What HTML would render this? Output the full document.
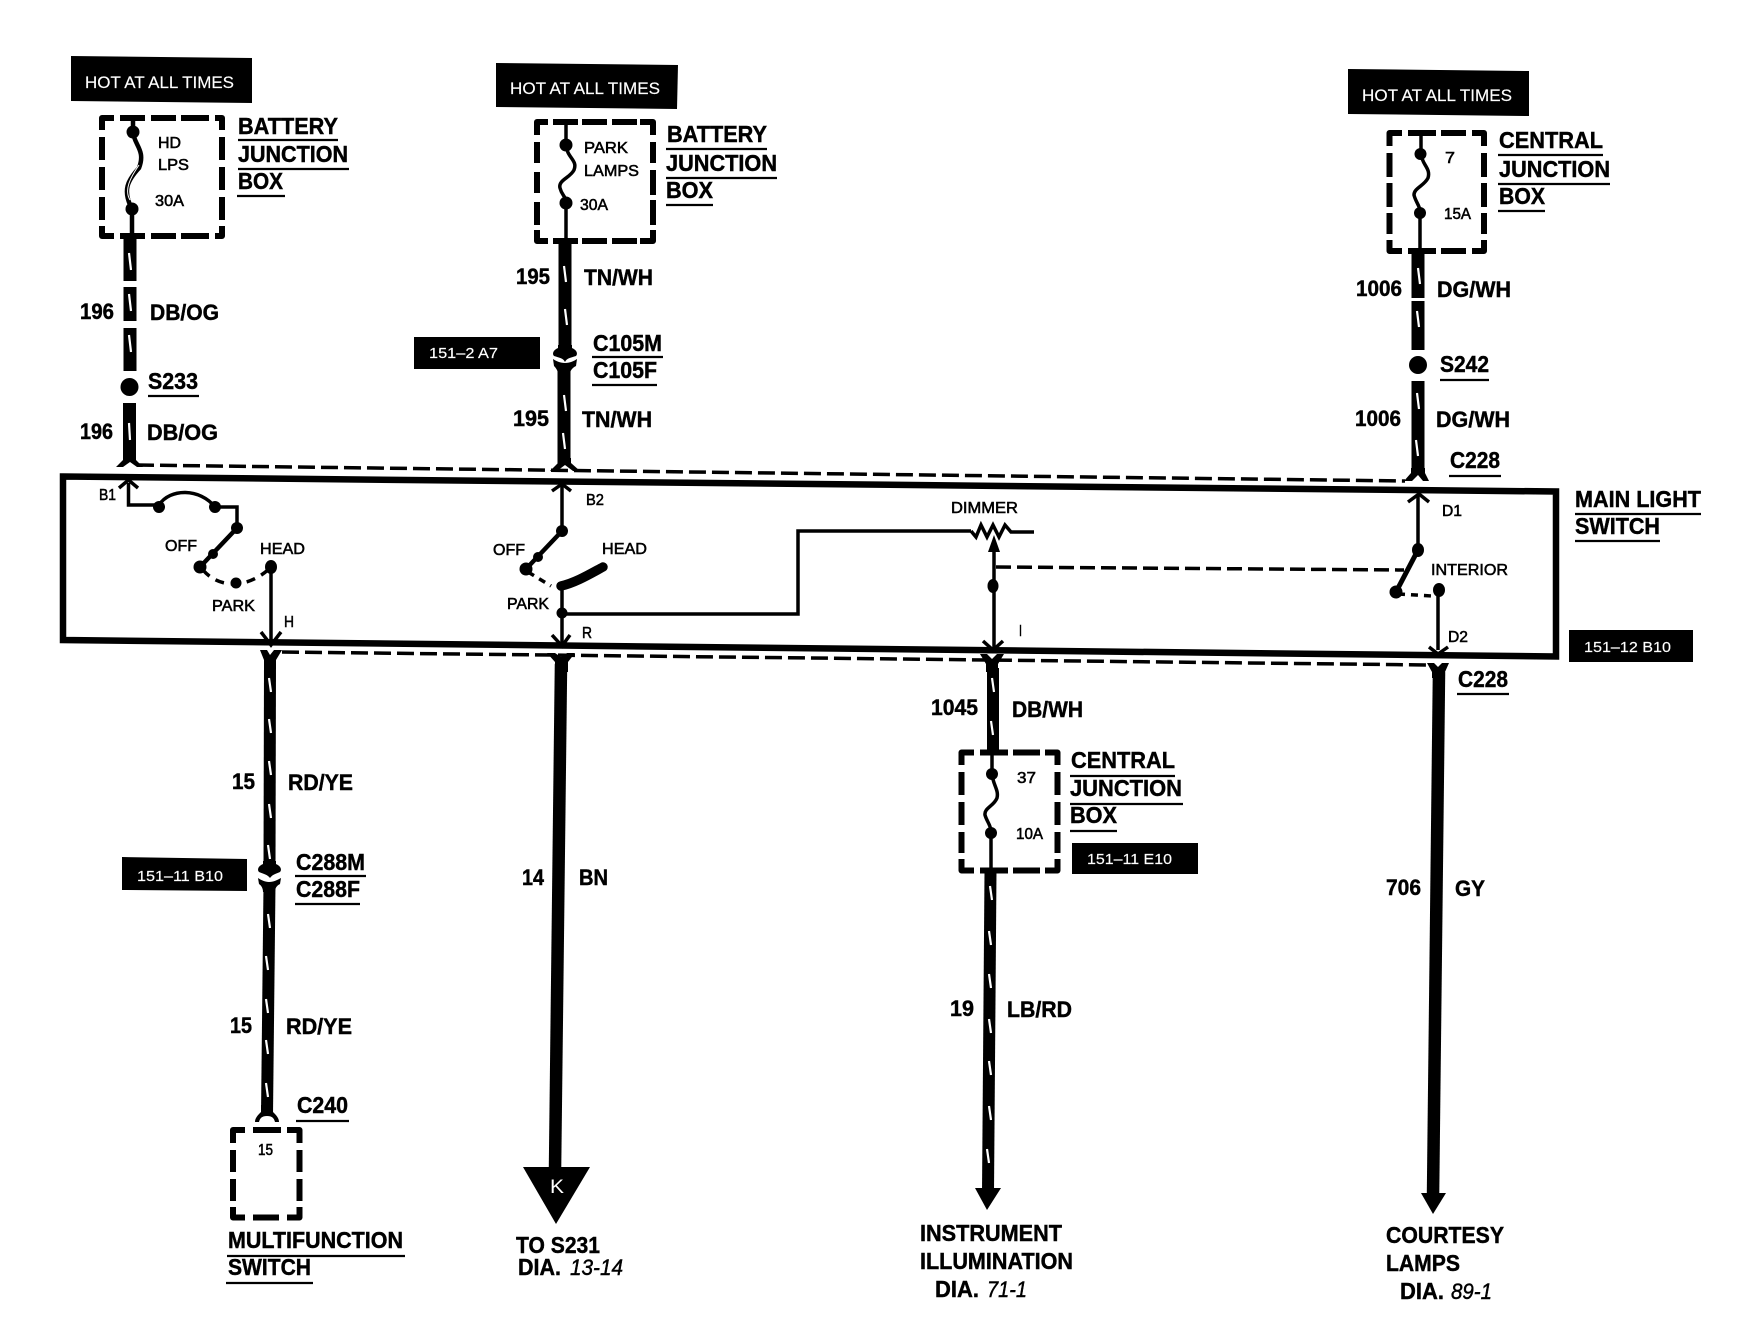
<!DOCTYPE html>
<html><head><meta charset="utf-8"><style>
html,body{margin:0;padding:0;background:#fff}
svg{display:block}
text{font-family:"Liberation Sans",sans-serif;fill:#000}
.b{font-size:23px;font-weight:bold;stroke:#000;stroke-width:.45}
.n{font-size:22px;font-weight:bold;stroke:#000;stroke-width:.45}
.s{font-size:16px;stroke:#000;stroke-width:.55}
.w{font-size:17px;fill:#fff;stroke:#fff;stroke-width:.15}
.i{font-size:22px;font-style:italic;font-weight:normal;stroke:#000;stroke-width:.45}
.wire{stroke:#000;fill:none}
.sl{stroke:#fff;stroke-width:2.2;fill:none}
.thin{stroke:#000;stroke-width:3.5;fill:none}
.ul{stroke:#000;stroke-width:2.2}
.dash{stroke:#000;fill:none;stroke-width:6;stroke-linejoin:round}
</style></head><body>
<svg xmlns="http://www.w3.org/2000/svg" width="1750" height="1344" viewBox="0 0 1750 1344">
<rect width="1750" height="1344" fill="#fff"/>

<!-- black tags -->
<polygon points="71,56 252,58 252,103 71,101"/>
<polygon points="496,63 678,65 677,109 496,107"/>
<polygon points="1348,69 1529,71 1529,116 1348,114"/>
<polygon points="414,337 540,337 540,369 414,369"/>
<polygon points="122,857 247,859 247,891 122,890"/>
<polygon points="1072,843 1198,843 1198,874 1072,874"/>
<polygon points="1569,630 1693,630 1693,662 1569,662"/>
<text class="w" x="85" y="88" textLength="149" lengthAdjust="spacingAndGlyphs">HOT AT ALL TIMES</text>
<text class="w" x="510" y="94" textLength="150" lengthAdjust="spacingAndGlyphs">HOT AT ALL TIMES</text>
<text class="w" x="1362" y="101" textLength="150" lengthAdjust="spacingAndGlyphs">HOT AT ALL TIMES</text>
<text class="w" style="font-size:15px" x="429" y="358" textLength="69" lengthAdjust="spacingAndGlyphs">151–2 A7</text>
<text class="w" style="font-size:15px" x="137" y="881" textLength="86" lengthAdjust="spacingAndGlyphs">151–11 B10</text>
<text class="w" style="font-size:15px" x="1087" y="864" textLength="85" lengthAdjust="spacingAndGlyphs">151–11 E10</text>
<text class="w" style="font-size:15px" x="1584" y="652" textLength="87" lengthAdjust="spacingAndGlyphs">151–12 B10</text>

<!-- main switch box -->
<polygon points="63,476.500 1556,491.500 1556,656.500 63,640" fill="none" stroke="#000" stroke-width="6.500"/>

<!-- dashed connector lines -->
<line x1="137" y1="465" x2="1405" y2="481" stroke="#000" stroke-width="3.500" stroke-dasharray="17 6"/>
<line x1="282" y1="652" x2="1430" y2="665" stroke="#000" stroke-width="3.500" stroke-dasharray="17 6"/>

<!-- fuse boxes -->
<path class="dash" d="M114,118 H102 V130 M120,118 H145 M151,118 H176 M181,118 H209 M215,118 H222 V130 M102,137 V160 M102,167 V190 M102,197 V220 M102,226 V236 H114 M222,137 V160 M222,167 V190 M222,197 V220 M222,226 V236 H215 M120,236 H145 M151,236 H176 M181,236 H209"/>
<path class="dash" d="M548,122 H537 V135 M553,122 H578 M582,122 H607 M612,122 H637 M640,122 H653 V135 M537,142 V163 M537,172 V193 M537,202 V225 M537,230 V241 H548 M653,142 V163 M653,170 V195 M653,200 V225 M653,230 V241 H640 M553,241 H578 M582,241 H607 M612,241 H637"/>
<path class="dash" d="M1402,133 H1389.500 V146 M1408,133 H1436 M1441,133 H1466 M1472,133 H1484 V146 M1389.500,153 V177 M1389.500,183 V207 M1389.500,213 V234 M1389.500,240 V251 H1402 M1484,153 V177 M1484,183 V207 M1484,213 V234 M1484,240 V251 H1472 M1408,251 H1436 M1441,251 H1466"/>
<path class="dash" d="M974,752.500 H961.500 V765 M980,752.500 H1008 M1013,752.500 H1040 M1045,752.500 H1057.500 V765 M961.500,772 V795 M961.500,802 V825 M961.500,832 V853 M961.500,859 V870.500 H974 M1057.500,772 V795 M1057.500,802 V825 M1057.500,832 V853 M1057.500,859 V870.500 H1045 M980,870.500 H1008 M1013,870.500 H1040"/>
<path class="dash" d="M245,1130 H233 V1143 M253,1130 H281 M287,1130 H299.500 V1143 M233,1150 V1172 M233,1179 V1201 M233,1207 V1217.500 H245 M299.500,1150 V1172 M299.500,1179 V1201 M299.500,1207 V1217.500 H287 M253,1217.500 H279"/>

<!-- fuse internals -->
<path class="thin" style="stroke-width:4.500" d="M133,118 V132 C134,145 146,150 139,168 C128,180 122,190 132,209 V237"/>
<path class="sl" style="stroke-width:1" d="M139,165 C130,178 124,190 130,200"/>
<circle cx="133" cy="132" r="6.500"/><circle cx="132" cy="209" r="6.500"/>
<path class="thin" d="M566,122 V145 C567,158 578,160 574,170 C570,178 558,180 560,188 C562,196 566,196 566,203 V242"/>
<circle cx="566" cy="145" r="6.500"/><circle cx="566" cy="203" r="6.500"/>
<path class="thin" d="M1421,133 V154 C1422,165 1431,168 1428,178 C1424,186 1414,188 1414,195 C1416,203 1420,205 1420,213 V252"/>
<circle cx="1420.500" cy="154" r="6"/><circle cx="1420" cy="213" r="6"/>
<path class="thin" d="M992,752 V774 C993,785 999,790 997,798 C994,806 984,808 985,815 C987,822 991,825 991,833 V871"/>
<circle cx="992" cy="774" r="6"/><circle cx="991" cy="833" r="6"/>

<!-- upper wires -->
<g class="wire" stroke-width="13">
<path d="M130,237 V281 M130,287 V321 M130,328 V371 M129.500,403 V461"/>
<path d="M565,242 V349 M564,364 V465"/>
<path d="M1418,252 V298 M1418,301 V350 M1418,381 V474"/>
</g>
<circle cx="129.500" cy="387" r="9"/>
<circle cx="1418" cy="365" r="9"/>
<!-- upper Y flares -->
<path d="M123,455 H136 V460 L143,467 H137 L130,462 L123,467 H116 L123,460 Z"/>
<path d="M558,458 H571 V463 L580,471 H573 L565,465 L557,471 H550 L558,463 Z"/>
<path d="M1411,468 H1425 V473 L1429,481 H1423 L1418,475 L1412,481 H1404 L1411,473 Z"/>
<!-- lower Y flares -->
<path d="M260,650 H267 L270,655 L274,650 H282 L276,660 V668 H264 V660 Z"/>
<path d="M547,653 H555 L561,657 L567,653 H575 L568,662 V672 H555 V662 Z"/>
<path d="M980,654 H987 L992,659 L997,654 H1004 L998,664 V672 H986 V664 Z"/>
<path d="M1427,663 H1434 L1438,667 L1442,663 H1449 L1445,672 V678 H1432 V672 Z"/>

<!-- lower wires -->
<path class="wire" stroke-width="12" d="M270,664 L269.500,866"/>
<path class="wire" stroke-width="12" d="M269.500,884 L267,1115"/>
<path class="wire" stroke-width="12.500" d="M561,664 L555,1170"/>
<path class="wire" stroke-width="12" d="M993,668 V752"/>
<path class="wire" stroke-width="12" d="M990.500,871 L988,1192"/>
<path class="wire" stroke-width="12.500" d="M1439,672 L1433,1197"/>

<!-- C105 / C288 connectors -->
<path d="M558,345 H572 V348 C577,350 578,354 576,356 C570,358 567,358 565,362 C563,358 560,358 554,356 C552,354 553,350 558,348 Z"/>
<path d="M553,359 C556,361 560,363 565,363 C570,363 574,361 577,359 L576,366 C572,368 570,371 570,374 H558 C558,371 556,368 554,366 Z"/>
<path d="M263,861 H276 V864 C281,866 282,870 280,872 C275,874 272,875 270,878 C268,875 264,874 259,872 C257,870 258,866 263,864 Z"/>
<path d="M258,878 C261,880 265,882 269,882 C274,882 277,880 281,878 L280,884 C276,886 275,889 275,892 H263 C263,889 262,886 259,884 Z"/>
<!-- C240 -->
<path d="M261,1105 H273 V1112 C276,1115 279,1118 279,1122 H275 C274,1118 272,1116 267,1116 C262,1116 260,1118 259,1122 H255 C255,1118 258,1115 261,1112 Z"/>

<!-- heads -->
<polygon points="523,1167 590,1167 556,1224"/>
<polygon points="975,1188 1001,1188 987,1210"/>
<polygon points="1421,1193 1446,1193 1433,1214"/>
<text x="550" y="1193" font-size="19" style="fill:#fff" textLength="14" lengthAdjust="spacingAndGlyphs">K</text>

<!-- wire slashes -->
<g class="sl">
<path d="M129,253 L131,270 M129,294 L131,311 M129,335 L131,352 M129,423 L130,440"/>
<path d="M564,266 L566,282 M565,309 L567,325 M564,395 L566,411 M563,433 L565,449"/>
<path d="M1418,268 L1420,284 M1417,311 L1419,327 M1417,393 L1419,409 M1416,440 L1418,456"/>
<path d="M269,678 L271,692 M269,719 L271,733 M269,761 L271,775 M269,804 L271,818 M268,845 L270,859"/>
<path d="M268,914 L270,928 M266,956 L268,970 M266,999 L268,1013 M266,1040 L268,1054 M266,1083 L268,1097"/>
<path d="M992,678 L994,692 M991,721 L993,735"/>
<path d="M990,886 L992,900 M989,931 L991,945 M989,974 L991,988 M989,1019 L991,1033 M989,1061 L991,1075 M989,1106 L991,1120 M987,1149 L989,1163"/>
</g>

<!-- switch 1 -->
<path class="thin" d="M128.500,483 V505 H159"/>
<path class="thin" d="M119,488 L128.500,480 L138,488"/>
<path class="thin" d="M159,505 C170,488 200,488 215,507 H237 V528"/>
<path class="thin" style="stroke-width:4.500" d="M237,528 L200,567"/>
<path class="thin" stroke-dasharray="9 7" d="M203,570 C220,590 250,588 271,567"/>
<path class="thin" d="M271,567 V644"/>
<path class="thin" d="M261,632 L271,645 L281,632"/>
<circle cx="159" cy="507" r="6"/><circle cx="215" cy="507" r="6"/><circle cx="237" cy="528" r="6"/>
<circle cx="213" cy="554" r="5"/><circle cx="200" cy="567" r="6.500"/><circle cx="236" cy="583" r="5.500"/><ellipse cx="271" cy="567" rx="6" ry="7"/>

<!-- switch 2 -->
<path class="thin" d="M552,491 L562,484 L571,491"/>
<path class="thin" d="M562,484 V531"/>
<path class="thin" style="stroke-width:4.500" d="M562,531 L526,569"/>
<path class="thin" stroke-dasharray="7 6" d="M528,572 L551,586"/>
<path d="M561,586 C575,583 590,574 603,567" fill="none" stroke="#000" stroke-width="9.500" stroke-linecap="round"/>
<path class="thin" d="M562,586 V644"/>
<path class="thin" d="M552,635 L562,646 L570,635"/>
<path class="thin" d="M562,614 H798 V531 H971"/>
<circle cx="562" cy="531" r="6"/><circle cx="538" cy="557" r="5"/><circle cx="526" cy="569" r="6.500"/><circle cx="562" cy="613" r="5.500"/>

<!-- dimmer -->
<path class="thin" d="M971,531 L976,537 L981,525 L987,537 L993,525 L999,537 L1005,525 L1011,532 H1034"/>
<polygon points="994,535 988,552 1000,552"/>
<path class="thin" d="M994,548 V648"/>
<path class="thin" d="M983,641 L993,650 L1003,641"/>
<ellipse cx="993" cy="586" rx="5.500" ry="7"/>
<line x1="996" y1="567" x2="1404" y2="570" stroke="#000" stroke-width="3.500" stroke-dasharray="15 6"/>

<!-- interior -->
<path class="thin" d="M1408,502 L1419,494 L1429,502"/>
<path class="thin" d="M1418,495 V550"/>
<path class="thin" style="stroke-width:5" d="M1418,550 L1396,592"/>
<path class="thin" stroke-dasharray="7 6" d="M1398,594 L1432,596"/>
<path class="thin" d="M1438,590 V650"/>
<path class="thin" d="M1429,647 L1438,654 L1448,647"/>
<ellipse cx="1418" cy="550" rx="6" ry="7"/><circle cx="1396" cy="592" r="6.500"/><ellipse cx="1439" cy="590" rx="6" ry="7"/>

<!-- bold labels + underlines -->
<text class="b" x="238" y="134" textLength="100" lengthAdjust="spacingAndGlyphs">BATTERY</text>
<text class="b" x="238" y="162" textLength="110" lengthAdjust="spacingAndGlyphs">JUNCTION</text>
<text class="b" x="238" y="189" textLength="45" lengthAdjust="spacingAndGlyphs">BOX</text>
<path class="ul" d="M238,140 H338 M238,169 H349 M237,196 H285"/>
<text class="b" x="667" y="142" textLength="100" lengthAdjust="spacingAndGlyphs">BATTERY</text>
<text class="b" x="666" y="171" textLength="111" lengthAdjust="spacingAndGlyphs">JUNCTION</text>
<text class="b" x="666" y="198" textLength="47" lengthAdjust="spacingAndGlyphs">BOX</text>
<path class="ul" d="M666,149 H767 M666,178 H777 M666,205 H713"/>
<text class="b" x="1499" y="148" textLength="104" lengthAdjust="spacingAndGlyphs">CENTRAL</text>
<text class="b" x="1499" y="177" textLength="111" lengthAdjust="spacingAndGlyphs">JUNCTION</text>
<text class="b" x="1499" y="204" textLength="46" lengthAdjust="spacingAndGlyphs">BOX</text>
<path class="ul" d="M1498,155 H1603 M1498,184 H1610 M1498,211 H1545"/>
<text class="b" x="1071" y="768" textLength="104" lengthAdjust="spacingAndGlyphs">CENTRAL</text>
<text class="b" x="1070" y="796" textLength="112" lengthAdjust="spacingAndGlyphs">JUNCTION</text>
<text class="b" x="1070" y="823" textLength="47" lengthAdjust="spacingAndGlyphs">BOX</text>
<path class="ul" d="M1070,776 H1175 M1070,804 H1183 M1070,831 H1117"/>
<text class="b" x="1575" y="507" textLength="126" lengthAdjust="spacingAndGlyphs">MAIN LIGHT</text>
<text class="b" x="1575" y="534" textLength="85" lengthAdjust="spacingAndGlyphs">SWITCH</text>
<path class="ul" d="M1575,514 H1701 M1575,541 H1660"/>
<text class="b" x="148" y="389" textLength="50" lengthAdjust="spacingAndGlyphs">S233</text>
<path class="ul" d="M148,396 H199"/>
<text class="b" x="1440" y="372" textLength="49" lengthAdjust="spacingAndGlyphs">S242</text>
<path class="ul" d="M1440,380 H1489"/>
<text class="b" x="1450" y="468" textLength="50" lengthAdjust="spacingAndGlyphs">C228</text>
<path class="ul" d="M1449,476 H1501"/>
<text class="b" x="1458" y="687" textLength="50" lengthAdjust="spacingAndGlyphs">C228</text>
<path class="ul" d="M1457,694 H1509"/>
<text class="b" x="593" y="351" textLength="69" lengthAdjust="spacingAndGlyphs">C105M</text>
<text class="b" x="593" y="378" textLength="64" lengthAdjust="spacingAndGlyphs">C105F</text>
<path class="ul" d="M592,357 H663 M592,385 H657"/>
<text class="b" x="296" y="870" textLength="69" lengthAdjust="spacingAndGlyphs">C288M</text>
<text class="b" x="296" y="897" textLength="64" lengthAdjust="spacingAndGlyphs">C288F</text>
<path class="ul" d="M295,876 H366 M295,904 H360"/>
<text class="b" x="297" y="1113" textLength="51" lengthAdjust="spacingAndGlyphs">C240</text>
<path class="ul" d="M296,1121 H349"/>
<text class="b" x="228" y="1248" textLength="175" lengthAdjust="spacingAndGlyphs">MULTIFUNCTION</text>
<text class="b" x="228" y="1275" textLength="83" lengthAdjust="spacingAndGlyphs">SWITCH</text>
<path class="ul" d="M227,1256 H405 M226,1283 H313"/>
<text class="b" x="516" y="1253" textLength="84" lengthAdjust="spacingAndGlyphs">TO S231</text>
<text class="b" x="518" y="1275" textLength="43" lengthAdjust="spacingAndGlyphs">DIA.</text>
<text class="i" x="570" y="1275" textLength="53" lengthAdjust="spacingAndGlyphs">13-14</text>
<text class="b" x="920" y="1241" textLength="142" lengthAdjust="spacingAndGlyphs">INSTRUMENT</text>
<text class="b" x="920" y="1269" textLength="153" lengthAdjust="spacingAndGlyphs">ILLUMINATION</text>
<text class="b" x="935" y="1297" textLength="44" lengthAdjust="spacingAndGlyphs">DIA.</text>
<text class="i" x="987" y="1297" textLength="40" lengthAdjust="spacingAndGlyphs">71-1</text>
<text class="b" x="1386" y="1243" textLength="118" lengthAdjust="spacingAndGlyphs">COURTESY</text>
<text class="b" x="1386" y="1271" textLength="74" lengthAdjust="spacingAndGlyphs">LAMPS</text>
<text class="b" x="1400" y="1299" textLength="44" lengthAdjust="spacingAndGlyphs">DIA.</text>
<text class="i" x="1451" y="1299" textLength="41" lengthAdjust="spacingAndGlyphs">89-1</text>

<!-- wire numbers and colours -->
<text class="n" x="80" y="319" textLength="34" lengthAdjust="spacingAndGlyphs">196</text>
<text class="n" x="150" y="320" textLength="69" lengthAdjust="spacingAndGlyphs">DB/OG</text>
<text class="n" x="80" y="439" textLength="33" lengthAdjust="spacingAndGlyphs">196</text>
<text class="n" x="147" y="440" textLength="71" lengthAdjust="spacingAndGlyphs">DB/OG</text>
<text class="n" x="516" y="284" textLength="34" lengthAdjust="spacingAndGlyphs">195</text>
<text class="n" x="584" y="285" textLength="69" lengthAdjust="spacingAndGlyphs">TN/WH</text>
<text class="n" x="513" y="426" textLength="36" lengthAdjust="spacingAndGlyphs">195</text>
<text class="n" x="582" y="427" textLength="70" lengthAdjust="spacingAndGlyphs">TN/WH</text>
<text class="n" x="1356" y="296" textLength="46" lengthAdjust="spacingAndGlyphs">1006</text>
<text class="n" x="1437" y="297" textLength="74" lengthAdjust="spacingAndGlyphs">DG/WH</text>
<text class="n" x="1355" y="426" textLength="46" lengthAdjust="spacingAndGlyphs">1006</text>
<text class="n" x="1436" y="427" textLength="74" lengthAdjust="spacingAndGlyphs">DG/WH</text>
<text class="n" x="232" y="789" textLength="23" lengthAdjust="spacingAndGlyphs">15</text>
<text class="n" x="288" y="790" textLength="65" lengthAdjust="spacingAndGlyphs">RD/YE</text>
<text class="n" x="230" y="1033" textLength="22" lengthAdjust="spacingAndGlyphs">15</text>
<text class="n" x="286" y="1034" textLength="66" lengthAdjust="spacingAndGlyphs">RD/YE</text>
<text class="n" x="522" y="885" textLength="22" lengthAdjust="spacingAndGlyphs">14</text>
<text class="n" x="579" y="885" textLength="29" lengthAdjust="spacingAndGlyphs">BN</text>
<text class="n" x="931" y="715" textLength="47" lengthAdjust="spacingAndGlyphs">1045</text>
<text class="n" x="1012" y="717" textLength="71" lengthAdjust="spacingAndGlyphs">DB/WH</text>
<text class="n" x="950" y="1016" textLength="24" lengthAdjust="spacingAndGlyphs">19</text>
<text class="n" x="1007" y="1017" textLength="65" lengthAdjust="spacingAndGlyphs">LB/RD</text>
<text class="n" x="1386" y="895" textLength="35" lengthAdjust="spacingAndGlyphs">706</text>
<text class="n" x="1455" y="896" textLength="30" lengthAdjust="spacingAndGlyphs">GY</text>

<!-- small labels -->
<text class="s" x="158" y="148" textLength="23" lengthAdjust="spacingAndGlyphs">HD</text>
<text class="s" x="158" y="170" textLength="31" lengthAdjust="spacingAndGlyphs">LPS</text>
<text class="s" x="155" y="206" textLength="29" lengthAdjust="spacingAndGlyphs">30A</text>
<text class="s" x="584" y="153" textLength="44" lengthAdjust="spacingAndGlyphs">PARK</text>
<text class="s" x="584" y="176" textLength="55" lengthAdjust="spacingAndGlyphs">LAMPS</text>
<text class="s" x="580" y="210" textLength="28" lengthAdjust="spacingAndGlyphs">30A</text>
<text class="s" x="1445" y="163" textLength="10" lengthAdjust="spacingAndGlyphs">7</text>
<text class="s" x="1444" y="219" textLength="27" lengthAdjust="spacingAndGlyphs">15A</text>
<text class="s" x="1017" y="783" textLength="19" lengthAdjust="spacingAndGlyphs">37</text>
<text class="s" x="1016" y="839" textLength="27" lengthAdjust="spacingAndGlyphs">10A</text>
<text class="s" x="258" y="1155" textLength="15" lengthAdjust="spacingAndGlyphs">15</text>
<text class="s" x="99" y="500" textLength="17" lengthAdjust="spacingAndGlyphs">B1</text>
<text class="s" x="165" y="551" textLength="32" lengthAdjust="spacingAndGlyphs">OFF</text>
<text class="s" x="260" y="554" textLength="45" lengthAdjust="spacingAndGlyphs">HEAD</text>
<text class="s" x="212" y="611" textLength="43" lengthAdjust="spacingAndGlyphs">PARK</text>
<text class="s" x="284" y="627" textLength="10" lengthAdjust="spacingAndGlyphs">H</text>
<text class="s" x="586" y="505" textLength="18" lengthAdjust="spacingAndGlyphs">B2</text>
<text class="s" x="493" y="555" textLength="32" lengthAdjust="spacingAndGlyphs">OFF</text>
<text class="s" x="602" y="554" textLength="45" lengthAdjust="spacingAndGlyphs">HEAD</text>
<text class="s" x="507" y="609" textLength="42" lengthAdjust="spacingAndGlyphs">PARK</text>
<text class="s" x="582" y="638" textLength="10" lengthAdjust="spacingAndGlyphs">R</text>
<text class="s" x="951" y="513" textLength="67" lengthAdjust="spacingAndGlyphs">DIMMER</text>
<text class="s" x="1019" y="636" textLength="3" lengthAdjust="spacingAndGlyphs">I</text>
<text class="s" x="1442" y="516" textLength="20" lengthAdjust="spacingAndGlyphs">D1</text>
<text class="s" x="1431" y="575" textLength="77" lengthAdjust="spacingAndGlyphs">INTERIOR</text>
<text class="s" x="1448" y="642" textLength="20" lengthAdjust="spacingAndGlyphs">D2</text>
</svg>
</body></html>
